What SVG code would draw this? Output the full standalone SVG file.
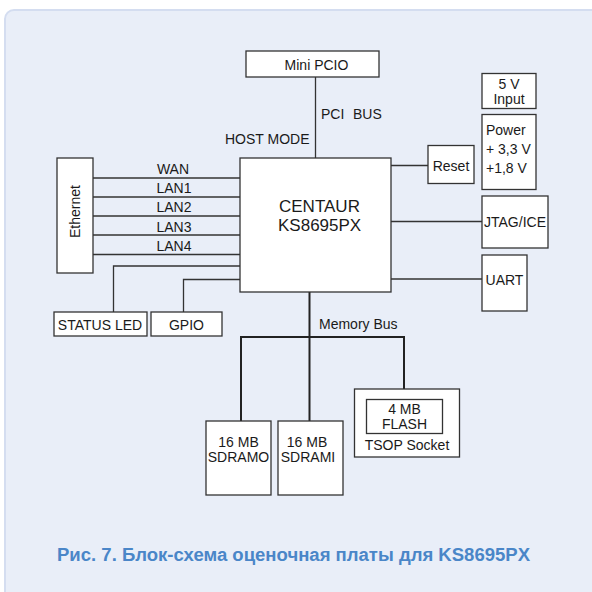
<svg xmlns="http://www.w3.org/2000/svg" width="592" height="592" viewBox="0 0 592 592">
<style>
.box{fill:#ffffff;stroke:#333333;stroke-width:1.3}
.ln{fill:none;stroke:#333333;stroke-width:1.3}
.bus{fill:none;stroke:#222222;stroke-width:2}
text{font-family:"Liberation Sans",Arial,sans-serif;font-size:14px;fill:#1a1a1a}
.c{text-anchor:middle}
.big{font-size:17px}
.cap{font-size:18px;font-weight:bold;fill:#4a86c8}
</style>
<rect x="5" y="10" width="600" height="600" rx="9" fill="#e9eef8" stroke="#d4ddf0" stroke-width="2"/>
<g id="connectors">
<line class="ln" x1="315.5" y1="77" x2="315.5" y2="158"/>
<line class="ln" x1="93" y1="178" x2="240" y2="178"/>
<line class="ln" x1="93" y1="197" x2="240" y2="197"/>
<line class="ln" x1="93" y1="216" x2="240" y2="216"/>
<line class="ln" x1="93" y1="235" x2="240" y2="235"/>
<line class="ln" x1="93" y1="254.5" x2="240" y2="254.5"/>
<polyline class="ln" points="240,266 113.5,266 113.5,312"/>
<polyline class="ln" points="240,279.5 183.5,279.5 183.5,312"/>
<line class="ln" x1="391" y1="165.5" x2="428" y2="165.5"/>
<line class="ln" x1="391" y1="221.5" x2="482" y2="221.5"/>
<line class="ln" x1="391" y1="279" x2="482" y2="279"/>
<line class="bus" x1="309.5" y1="292" x2="309.5" y2="421"/>
<polyline class="bus" points="241,421 241,337 404,337 404,389"/>
<text x="321" y="119">PCI</text><text x="353" y="119">BUS</text>
<text x="225" y="144">HOST MODE</text>
<text class="c" x="173" y="174">WAN</text>
<text class="c" x="174" y="193">LAN1</text>
<text class="c" x="174" y="212">LAN2</text>
<text class="c" x="174" y="231.5">LAN3</text>
<text class="c" x="174" y="250.5">LAN4</text>
<text x="319" y="329">Memory Bus</text>
</g>
<g id="minipci"><rect class="box" x="246" y="51" width="133" height="26"/><text class="c" x="316.5" y="69.5">Mini PCIO</text></g>
<g id="centaur"><rect class="box" x="240" y="158" width="151" height="134"/><text x="279" y="212" class="big">CENTAUR</text><text x="278" y="230.5" class="big">KS8695PX</text></g>
<g id="ethernet"><rect class="box" x="57" y="158" width="36" height="115"/><text class="c" transform="translate(80,211.5) rotate(-90)">Ethernet</text></g>
<g id="statusled"><rect class="box" x="54" y="312" width="93" height="24"/><text class="c" x="100" y="329.5">STATUS LED</text></g>
<g id="gpio"><rect class="box" x="151" y="312" width="71" height="24"/><text class="c" x="186.5" y="329.5">GPIO</text></g>
<g id="input5v"><rect class="box" x="482" y="73.5" width="54" height="35"/><text class="c" x="509" y="89">5 V</text><text class="c" x="509" y="104">Input</text></g>
<g id="power"><rect class="box" x="482" y="114.5" width="54" height="75"/><text x="486" y="135">Power</text><text x="486" y="154">+ 3,3 V</text><text x="486" y="173">+1,8 V</text></g>
<g id="reset"><rect class="box" x="428" y="145.5" width="46" height="38"/><text class="c" x="451" y="170.5">Reset</text></g>
<g id="jtag"><rect class="box" x="482" y="196" width="66" height="52"/><text class="c" x="515" y="227">JTAG/ICE</text></g>
<g id="uart"><rect class="box" x="482" y="255" width="45" height="56"/><text class="c" x="504.5" y="285">UART</text></g>
<g id="sdram0"><rect class="box" x="206" y="421" width="65" height="74"/><text class="c" x="238.5" y="447">16 MB</text><text class="c" x="238.5" y="462">SDRAMO</text></g>
<g id="sdram1"><rect class="box" x="278" y="421" width="65" height="74"/><text class="c" x="307" y="447">16 MB</text><text class="c" x="308" y="462">SDRAMI</text></g>
<g id="tsop"><rect class="box" x="354.5" y="389" width="105" height="68"/><rect class="box" x="366.5" y="399.5" width="76" height="34"/><text class="c" x="404.5" y="414">4 MB</text><text class="c" x="404.5" y="428.5">FLASH</text><text class="c" x="407" y="450">TSOP Socket</text></g>
<text class="cap" x="57" y="561" textLength="473" lengthAdjust="spacingAndGlyphs">Рис. 7. Блок-схема оценочная платы для KS8695PX</text>
</svg>
